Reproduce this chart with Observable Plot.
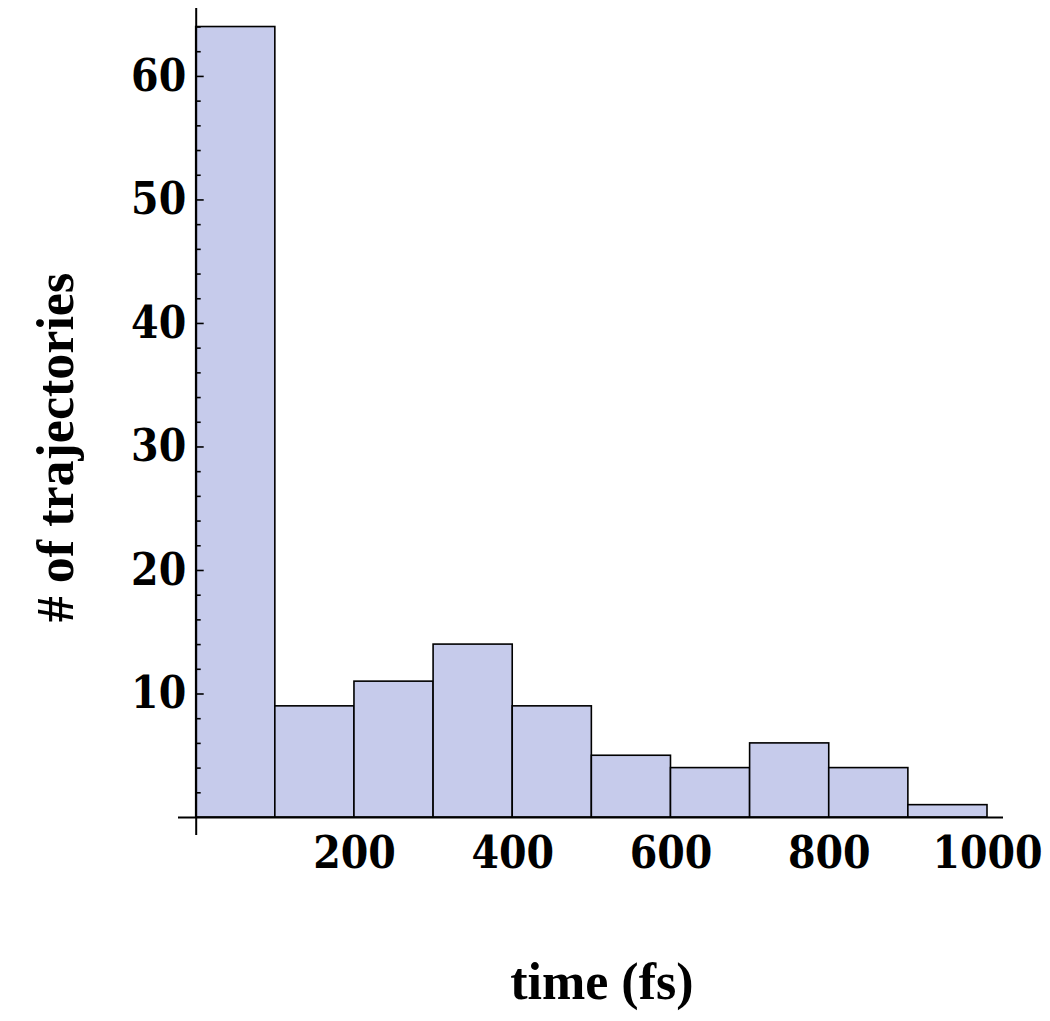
<!DOCTYPE html>
<html>
<head>
<meta charset="utf-8">
<script src="https://cdn.jsdelivr.net/npm/d3@7"></script>
<script src="https://cdn.jsdelivr.net/npm/@observablehq/plot@0.6"></script>
<style>
  html, body { margin: 0; padding: 0; background: #fff; }
  #chart svg { display: block; }
</style>
</head>
<body>
<div id="chart"></div>
<script>
// Histogram of trajectories by time (fs), bins of 100 fs
const binStarts = [0, 100, 200, 300, 400, 500, 600, 700, 800, 900];
const binEnds   = [100, 200, 300, 400, 500, 600, 700, 800, 900, 1000];
const counts    = [64, 9, 11, 14, 9, 5, 4, 6, 4, 1];
const xTicks = [200, 400, 600, 800, 1000];
const yMajorTicks = [10, 20, 30, 40, 50, 60];
const yMinorTicks = [2, 4, 6, 8, 12, 14, 16, 18, 22, 24, 26, 28, 32, 34, 36, 38, 42, 44, 46, 48, 52, 54, 56, 58, 62, 64];
const xTitle = "time (fs)";
const yTitle = "# of trajectories";

const bins = binStarts.map((s, i) => ({x1: s, x2: binEnds[i], count: counts[i]}));

const tickFont = '"DejaVu Serif Condensed", "DejaVu Serif", serif';
const titleFont = '"Liberation Serif", "Times New Roman", serif';

const chart = Plot.plot({
  width: 1050,
  height: 1021,
  marginTop: 8,
  marginBottom: 186,
  marginLeft: 195.7,
  marginRight: 63,
  x: {domain: [0, 1000]},
  y: {domain: [-1.457, 65.5]},
  marks: [
    Plot.rectY(bins, {x1: "x1", x2: "x2", y: "count", fill: "#c6cbeb", stroke: "#000", strokeWidth: 1.6}),
    Plot.ruleX([0], {stroke: "#000", strokeWidth: 2}),
    Plot.ruleY([0], {stroke: "#000", strokeWidth: 2, insetLeft: -17.7, insetRight: -16}),
    Plot.axisY({ticks: yMinorTicks, tickSize: -5, tickFormat: () => "", label: null, strokeWidth: 1.6}),
    Plot.axisY({ticks: yMajorTicks, tickSize: -8, tickPadding: 18, label: null, strokeWidth: 1.6,
      tickFormat: d => String(d),
      fontSize: 44, fontWeight: "bold", fontFamily: tickFont, fill: "#000"}),
    Plot.axisX({ticks: xTicks, tickSize: 0, tickPadding: 1, label: null,
      tickFormat: d => String(d),
      fontSize: 44, fontWeight: "bold", fontFamily: tickFont, fill: "#000"}),
    Plot.text([xTitle], {frameAnchor: "bottom", text: d => d, dx: 10, dy: 163, lineAnchor: "bottom", textAnchor: "middle",
      fontSize: 52, fontWeight: "bold", fontFamily: titleFont, fill: "#000"}),
    Plot.text([yTitle], {frameAnchor: "left", text: d => d, rotate: -90, dx: -123.7, dy: 25.5, lineAnchor: "bottom", textAnchor: "middle",
      fontSize: 52, fontWeight: "bold", fontFamily: titleFont, fill: "#000"})
  ]
});
document.getElementById("chart").appendChild(chart);
</script>
</body>
</html>
